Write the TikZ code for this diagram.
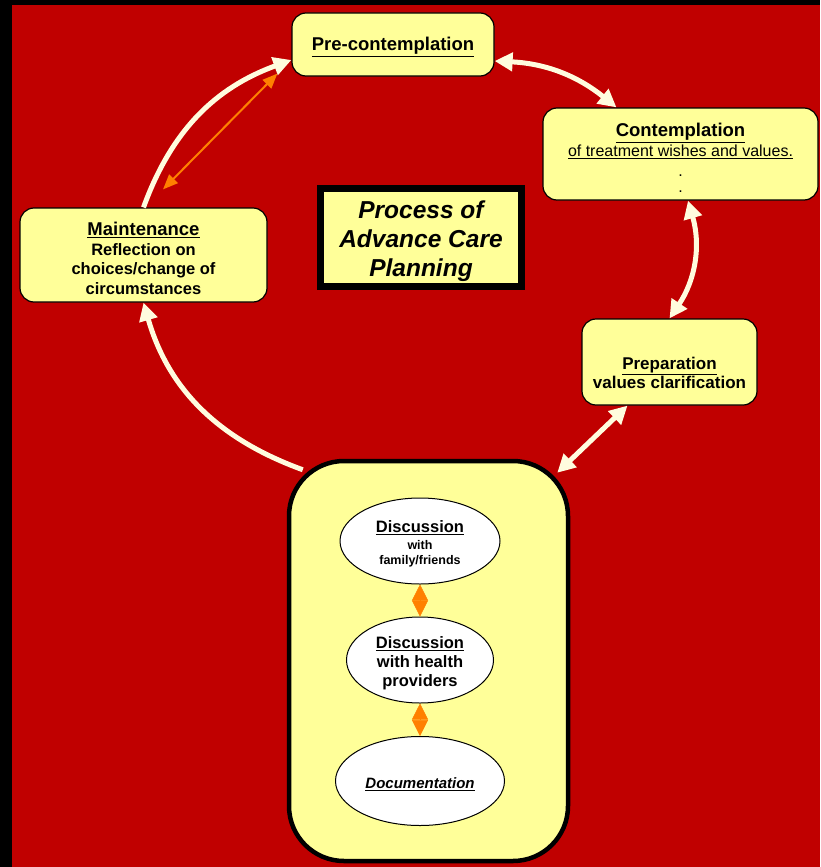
\documentclass[tikz,border=0pt]{standalone}
\usepackage{fontspec}
\setmainfont{Liberation Sans}
\usetikzlibrary{arrows.meta,shapes.geometric}

\definecolor{slidered}{RGB}{192,0,0}
\definecolor{boxyellow}{RGB}{255,255,153}
\definecolor{cream}{RGB}{255,252,222}
\definecolor{deeporange}{RGB}{255,128,0}

\tikzset{
  stage/.style={draw=black, line width=1.2pt, fill=boxyellow, rounded corners=14pt, inner sep=0pt},
  talk/.style={ellipse, draw=black, line width=1pt, fill=white, inner sep=0pt},
  ringarrow/.style={draw=cream, line width=5pt, >={Triangle[length=18pt,width=18pt]}},
  linkarrow/.style={draw=deeporange, line width=2pt, >={Triangle[length=15pt,width=12pt]}},
  diamondarrow/.style={draw=deeporange, fill=deeporange, line width=0.5pt, >={Triangle[length=16pt,width=16pt]}},
}

\begin{document}
\begin{tikzpicture}[x=1pt,y=1pt]

\fill[black] (0,0) rectangle (820,-867);
\fill[slidered] (12,-5) rectangle (820,-867);
\useasboundingbox (0,0) rectangle (820,-867);

% stage boxes
\node[stage, minimum width=202pt, minimum height=63pt] (pre) at (393,-44.5) {};
\node[font=\fontsize{18.5}{22}\selectfont\bfseries] (preText) at (393,-47) {\underline{Pre-contemplation}};

\node[stage, minimum width=275pt, minimum height=92pt] (cont) at (680.5,-154) {};
\node[align=center, font=\fontsize{16}{19}\selectfont] (contText) at (680.5,-158)
  {{\fontsize{18.5}{22}\selectfont\bfseries\underline{Contemplation}}\\[1pt]
   \underline{of treatment wishes and values.}\\[1pt]
   .\\[-3pt]
   .};

\node[stage, minimum width=175pt, minimum height=86pt] (prep) at (669.5,-362) {};
\node[align=center, font=\fontsize{17}{19}\selectfont\bfseries] (prepText) at (669.5,-372.5)
  {\underline{Preparation}\\values clarification};

\node[stage, minimum width=247pt, minimum height=94pt] (maint) at (143.5,-255) {};
\node[align=center, font=\fontsize{16.5}{19.5}\selectfont\bfseries] (maintText) at (143.5,-258)
  {{\fontsize{18.5}{22}\selectfont\underline{Maintenance}}\\[0.5pt]
   Reflection on\\choices/change of\\circumstances};

\node[draw=black, line width=7pt, fill=boxyellow, minimum width=201pt, minimum height=98pt,
      inner sep=0pt] (title) at (421,-237.5) {};
\node[align=center, font=\fontsize{24.5}{29}\selectfont\bfseries\itshape] (titleText) at (421,-241)
  {Process of\\Advance Care\\Planning};

% action box
\node[draw=black, line width=4.5pt, fill=boxyellow, rounded corners=55pt,
      minimum width=279pt, minimum height=400pt] (big) at (428.5,-661) {};

\node[talk, minimum width=160pt, minimum height=86pt] (famTalk) at (420,-541) {};
\node[align=center, font=\fontsize{12.5}{15.5}\selectfont\bfseries] (famText) at (420,-544)
  {{\fontsize{16.5}{18}\selectfont\underline{Discussion}}\\[1.5pt] with\\family/friends};
\node[talk, minimum width=147pt, minimum height=86pt] (docTalk) at (420,-660) {};
\node[align=center, font=\fontsize{16.5}{19}\selectfont\bfseries] (docText) at (420,-663)
  {\underline{Discussion}\\with health\\providers};
\node[talk, minimum width=169pt, minimum height=89pt] (record) at (420,-781) {};
\node[font=\fontsize{15}{18}\selectfont\bfseries\itshape] (recordText) at (420,-784.5)
  {\underline{Documentation}};

\draw[diamondarrow, <->] (famTalk.south) -- (docTalk.north);
\draw[diamondarrow, <->] (docTalk.south) -- (record.north);

% cycle arrows
\draw[ringarrow, <->] ([yshift=-16.5pt]pre.east) to[bend left=18] ([xshift=-64pt]cont.north);
\draw[ringarrow, <->] ([xshift=7.5pt]cont.south) to[bend left=25] (prep.north);
\draw[ringarrow, <->] ([xshift=-42pt]prep.south) -- ([xshift=-13pt,yshift=-14pt]big.north east);
\draw[ringarrow, ->] ([xshift=16pt,yshift=-11pt]big.north west) to[out=160,in=-74] (maint.south);
\draw[ringarrow, ->] (maint.north) to[out=70,in=-160] ([yshift=-15.5pt]pre.west);

\draw[linkarrow, <->] ([xshift=19.5pt,yshift=18pt]maint.north) -- ([xshift=-14pt,yshift=3pt]pre.south west);

\end{tikzpicture}
\end{document}
